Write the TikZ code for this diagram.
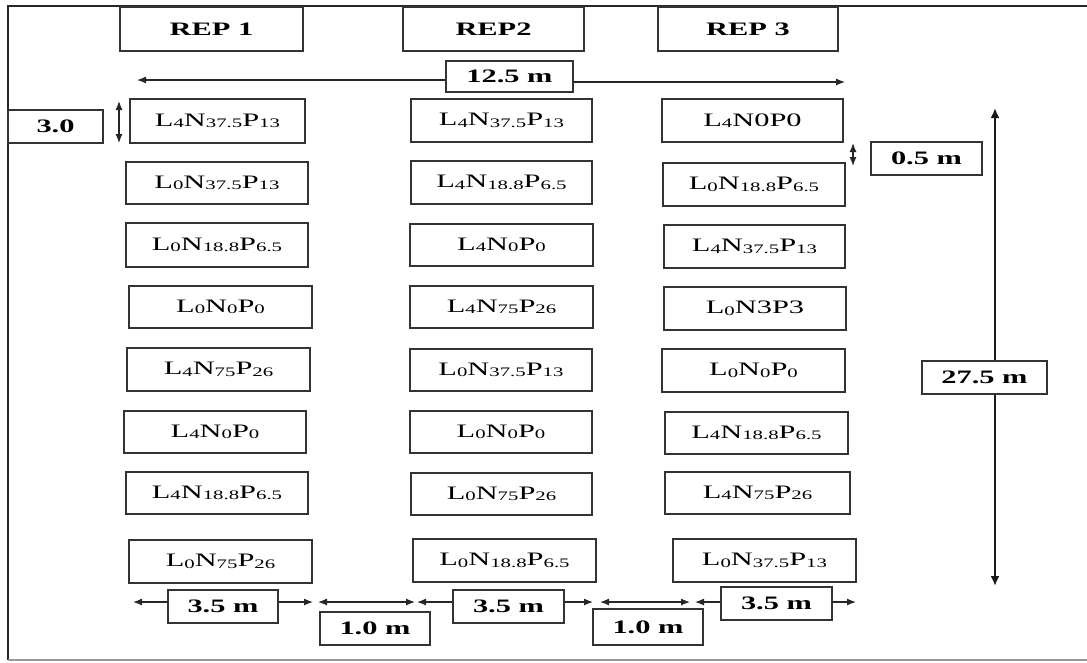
\documentclass[tikz,border=0pt]{standalone}
\usepackage{fontspec}
\setmainfont{Liberation Serif}
\usetikzlibrary{arrows.meta}
\newcommand\W[1]{\scalebox{1.6}[1]{#1}}
\newcommand\sbx[1]{\raisebox{-1.5pt}{\fontsize{13}{13}\selectfont #1}}
\newcommand\lnp[3]{\W{L\sbx{#1}N\sbx{#2}P\sbx{#3}}}
\newcommand\pbox[6]{\node[plotbox,minimum width={#3-#2},minimum height={#5-#4}] (#1) at ({(#2+#3)/2},{(#4+#5)/2}) {#6};}
\newcommand\lbox[6]{\node[labbox,minimum width={#3-#2},minimum height={#5-#4}] (#1) at ({(#2+#3)/2},{(#4+#5)/2}) {\W{#6}};}
\begin{document}
\begin{tikzpicture}[x=1pt,y=-1pt,
  plotbox/.style={draw=black!80, line width=1.3pt, inner sep=0pt, font=\fontsize{19}{20}\selectfont},
  labbox/.style={draw=black!80, line width=1.3pt, inner sep=0pt, font=\fontsize{19}{20}\selectfont\bfseries},
  dim/.style={line width=1.2pt, draw=black!85, -{Latex[length=9pt,width=7pt]}},
  dimboth/.style={line width=1.2pt, draw=black!85, {Latex[length=9pt,width=7pt]}-{Latex[length=9pt,width=7pt]}},
  bigdim/.style={line width=2.2pt, draw=black!90, -{Latex[length=10pt,width=9pt]}}]
\useasboundingbox (0,0) rectangle (1087,662);
% frame
\draw[line width=2.4pt, black!85] (1087,6) -- (8,6) -- (8,660);
\draw[line width=1.5pt, black!40] (8,660) -- (1087,660);
% replicate headers
\lbox{rep1}{120}{303}{7}{51}{REP 1}
\lbox{rep2}{403}{584}{7}{51}{REP2}
\lbox{rep3}{658}{838}{7}{51}{REP 3}
% column 1
\pbox{a1}{130}{305}{99}{143}{\lnp{4}{37.5}{13}}
\pbox{a2}{126}{308}{162}{204}{\lnp{0}{37.5}{13}}
\pbox{a3}{126}{308}{223}{267}{\lnp{0}{18.8}{6.5}}
\pbox{a4}{129}{312}{286}{328}{\lnp{0}{0}{0}}
\pbox{a5}{127}{310}{348}{391}{\lnp{4}{75}{26}}
\pbox{a6}{124}{306}{411}{453}{\lnp{4}{0}{0}}
\pbox{a7}{126}{308}{472}{514}{\lnp{4}{18.8}{6.5}}
\pbox{a8}{129}{312}{540}{583}{\lnp{0}{75}{26}}
% column 2
\pbox{b1}{411}{592}{99}{142}{\lnp{4}{37.5}{13}}
\pbox{b2}{411}{592}{161}{204}{\lnp{4}{18.8}{6.5}}
\pbox{b3}{410}{593}{224}{266}{\lnp{4}{0}{0}}
\pbox{b4}{410}{593}{286}{328}{\lnp{4}{75}{26}}
\pbox{b5}{410}{592}{349}{391}{\lnp{0}{37.5}{13}}
\pbox{b6}{410}{592}{411}{453}{\lnp{0}{0}{0}}
\pbox{b7}{411}{592}{473}{515}{\lnp{0}{75}{26}}
\pbox{b8}{413}{596}{539}{582}{\lnp{0}{18.8}{6.5}}
% column 3
\pbox{c1}{662}{843}{99}{142}{\W{L\sbx{4}N0P0}}
\pbox{c2}{663}{845}{163}{206}{\lnp{0}{18.8}{6.5}}
\pbox{c3}{664}{845}{225}{268}{\lnp{4}{37.5}{13}}
\pbox{c4}{664}{846}{287}{330}{\W{L\sbx{0}N3P3}}
\pbox{c5}{662}{845}{349}{392}{\lnp{0}{0}{0}}
\pbox{c6}{665}{848}{412}{454}{\lnp{4}{18.8}{6.5}}
\pbox{c7}{665}{850}{472}{514}{\lnp{4}{75}{26}}
\pbox{c8}{673}{856}{539}{582}{\lnp{0}{37.5}{13}}
% dimension labels
\lbox{t125}{446}{573}{61}{92}{12.5 m}
\lbox{t30}{8}{103}{110}{143}{3.0}
\lbox{t05}{871}{982}{142}{175}{0.5 m}
\lbox{t275}{922}{1047}{361}{394}{27.5 m}
\lbox{d1}{168}{278}{590}{623}{3.5 m}
\lbox{d2}{453}{564}{590}{623}{3.5 m}
\lbox{d3}{721}{832}{587}{620}{3.5 m}
\lbox{g1}{320}{430}{612}{645}{1.0 m}
\lbox{g2}{593}{703}{609}{645}{1.0 m}
% 12.5 m
\coordinate (h1) at (137,80);
\coordinate (h2) at (845,82);
\draw[dim] (t125.west |- h1) -- (h1);
\draw[dim] (t125.east |- h2) -- (h2);
% 3.0 and 0.5 m
\coordinate (s1) at (119,101);
\coordinate (s2) at (119,143);
\draw[dimboth] (s1) -- (s2);
\coordinate (s3) at (853,143);
\coordinate (s4) at (853,166);
\draw[dimboth] (s3) -- (s4);
% 27.5 m
\coordinate (v1) at (995,108);
\coordinate (v2) at (995,586);
\draw[bigdim] (v1 |- t275.north) -- (v1);
\draw[bigdim] (v2 |- t275.south) -- (v2);
% bottom dimensions
\coordinate (p1) at (133,602);
\coordinate (p2) at (313,602);
\coordinate (p3) at (318,602);
\coordinate (p4) at (415,602);
\coordinate (p5) at (417,602);
\coordinate (p6) at (593,602);
\coordinate (p7) at (600,602);
\coordinate (p8) at (690,602);
\coordinate (p9) at (695,602);
\coordinate (p10) at (856,602);
\draw[dim] (d1.west |- p1) -- (p1);
\draw[dim] (d1.east |- p2) -- (p2);
\draw[dimboth] (p3) -- (p4);
\draw[dim] (d2.west |- p5) -- (p5);
\draw[dim] (d2.east |- p6) -- (p6);
\draw[dimboth] (p7) -- (p8);
\draw[dim] (d3.west |- p9) -- (p9);
\draw[dim] (d3.east |- p10) -- (p10);
\end{tikzpicture}
\end{document}
